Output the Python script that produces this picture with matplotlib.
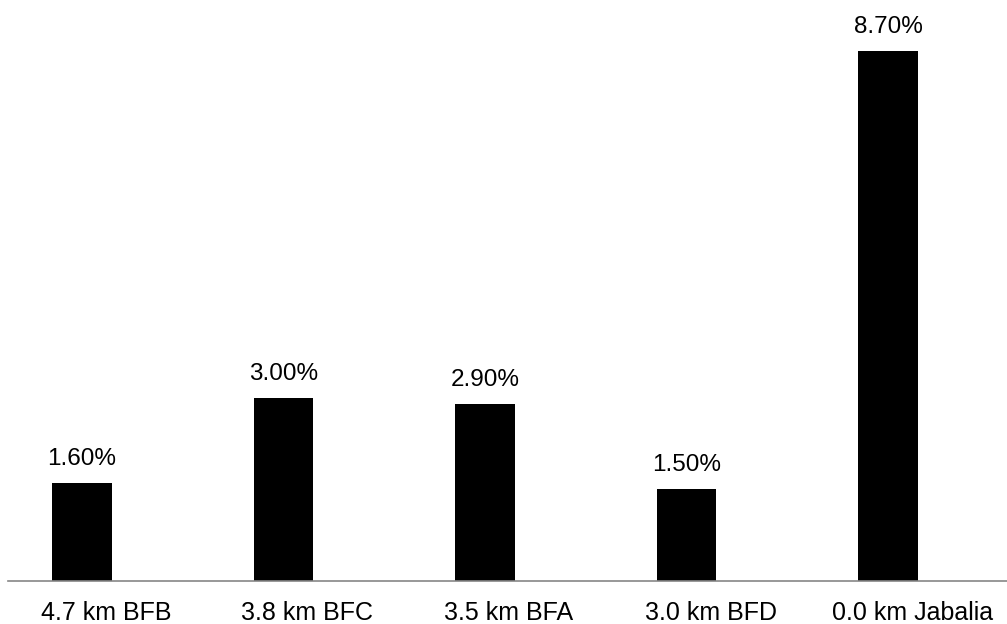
import matplotlib
matplotlib.use("Agg")
import matplotlib.pyplot as plt
from matplotlib.transforms import ScaledTranslation

categories = ["4.7 km BFB", "3.8 km BFC", "3.5 km BFA", "3.0 km BFD", "0.0 km Jabalia"]
values = [1.6, 3.0, 2.9, 1.5, 8.7]
value_labels = ["1.60%", "3.00%", "2.90%", "1.50%", "8.70%"]

plt.rcParams["font.family"] = ["Liberation Sans", "DejaVu Sans"]

W, H = 1007, 624
fig = plt.figure(figsize=(W / 100, H / 100), dpi=100)
base_px = 580.5
ax = fig.add_axes([8 / W, (H - base_px) / H, (W - 8) / W, base_px / H])

x = list(range(len(categories)))
ax.bar(x, values, width=0.297, color="black", zorder=2)

for xi, v, lab in zip(x, values, value_labels):
    ax.annotate(lab, (xi, v), xytext=(0, 13), textcoords="offset points",
                ha="center", va="baseline", fontsize=17.5, color="black")

ax.set_xlim(-0.367, 4.59)
ax.set_ylim(0, base_px / 60.85)

ax.set_xticks(x)
ax.set_xticklabels(categories, fontsize=18)
ax.tick_params(axis="x", length=0, pad=15)
shift = ScaledTranslation(24 / 100, 0, fig.dpi_scale_trans)
for lbl in ax.get_xticklabels():
    lbl.set_transform(lbl.get_transform() + shift)
ax.set_yticks([])

for s in ["top", "right", "left"]:
    ax.spines[s].set_visible(False)
ax.spines["bottom"].set_color("#868686")
ax.spines["bottom"].set_linewidth(1.2)

fig.savefig("out.png", dpi=100)
